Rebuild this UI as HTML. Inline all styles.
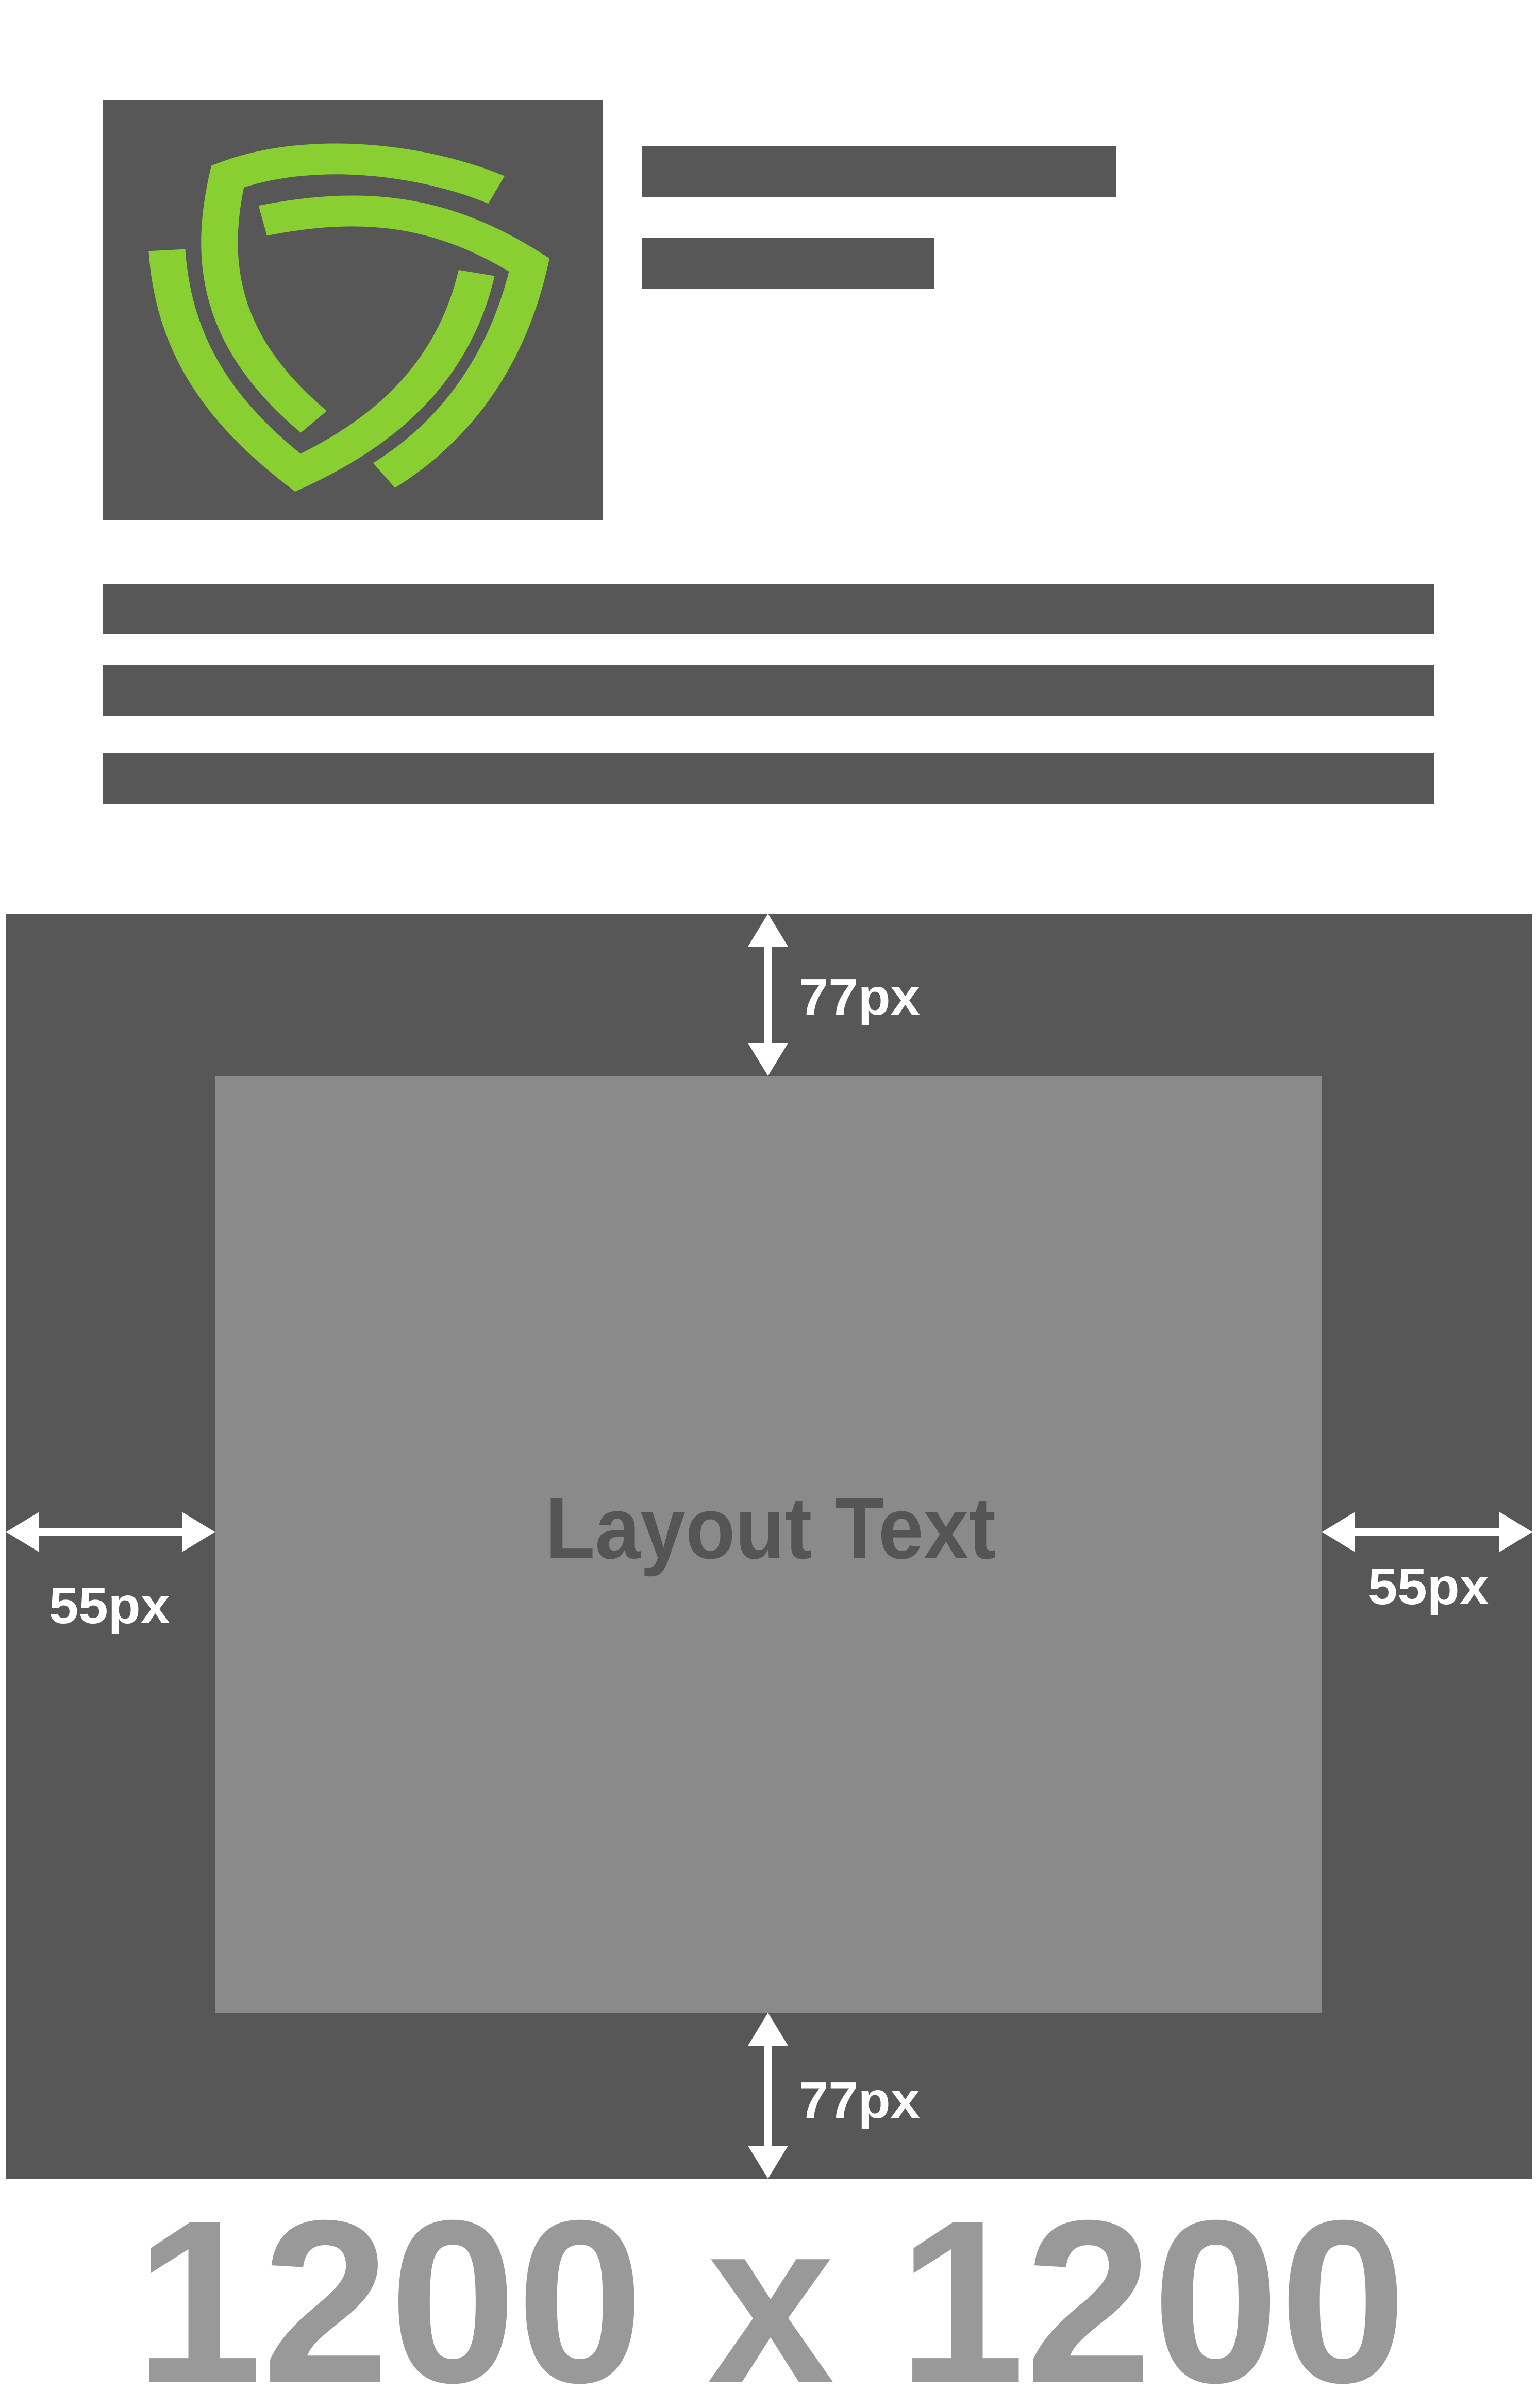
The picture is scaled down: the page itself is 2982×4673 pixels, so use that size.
<!DOCTYPE html>
<html><head><meta charset="utf-8"><style>html,body{margin:0;padding:0;background:#fff}svg{display:block}</style></head>
<body>
<svg width="2982" height="4673" viewBox="0 0 2982 4673" xmlns="http://www.w3.org/2000/svg">
<rect width="2982" height="4673" fill="#fff"/>
<rect x="200" y="194" width="970" height="815" fill="#575757"/>
<svg x="200" y="194" width="970" height="815" viewBox="0 0 1566 1566" preserveAspectRatio="none">
<g fill="none" stroke="#89cf31" stroke-width="115" stroke-linecap="butt">
<path d="M1232,335 C1000,220 650,170 390,285 C330,600 360,900 660,1200"/>
<path d="M500,450 C800,380 1050,400 1335,615 C1280,900 1150,1200 880,1400"/>
<path d="M200,560 C220,900 350,1150 610,1390 C900,1230 1100,1000 1170,645"/>
</g>
</svg>
<rect x="1246" y="283" width="919" height="99" fill="#575757"/>
<rect x="1246" y="462" width="567" height="99" fill="#575757"/>
<rect x="200" y="1133" width="2582" height="97" fill="#575757"/>
<rect x="200" y="1291" width="2582" height="99" fill="#575757"/>
<rect x="200" y="1461" width="2582" height="99" fill="#575757"/>
<rect x="12" y="1773" width="2961" height="2455" fill="#575757"/>
<rect x="417" y="2089" width="2148" height="1817" fill="#8a8a8a"/>
<g fill="#fff">
<rect x="1483" y="1830" width="14" height="200"/>
<polygon points="1490,1773 1451,1837 1529,1837"/>
<polygon points="1490,2088 1451,2024 1529,2024"/>
<rect x="1483" y="3965" width="14" height="205"/>
<polygon points="1490,3906 1451,3970 1529,3970"/>
<polygon points="1490,4228 1451,4164 1529,4164"/>
<rect x="70" y="2966" width="290" height="14"/>
<polygon points="12,2973 76,2934 76,3012"/>
<polygon points="417,2973 353,2934 353,3012"/>
<rect x="2620" y="2966" width="290" height="14"/>
<polygon points="2565,2973 2629,2934 2629,3012"/>
<polygon points="2973,2973 2909,2934 2909,3012"/>
</g>
<g font-family="Liberation Sans, sans-serif" font-weight="bold" fill="#fff" font-size="100">
<text x="1550" y="1969" textLength="235" lengthAdjust="spacingAndGlyphs">77px</text>
<text x="1550" y="4110" textLength="235" lengthAdjust="spacingAndGlyphs">77px</text>
<text x="95" y="3150" textLength="235" lengthAdjust="spacingAndGlyphs">55px</text>
<text x="2654" y="3113" textLength="235" lengthAdjust="spacingAndGlyphs">55px</text>
</g>
<text x="1058" y="3024" font-family="Liberation Sans, sans-serif" font-weight="bold" font-size="170" fill="#555" textLength="874" lengthAdjust="spacingAndGlyphs">Layout Text</text>
<text x="262" y="4622" font-family="Liberation Sans, sans-serif" font-weight="bold" font-size="450" fill="#999" textLength="2467" lengthAdjust="spacingAndGlyphs">1200 x 1200</text>
</svg>
</body></html>
